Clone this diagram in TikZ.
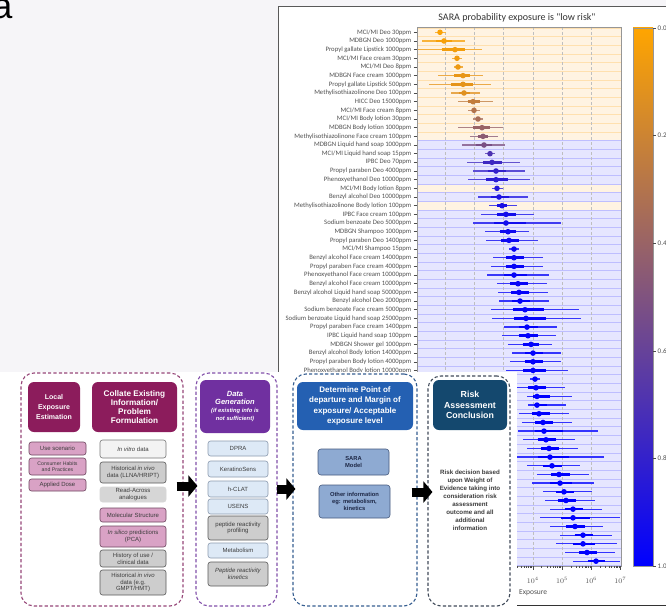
\documentclass[tikz,border=0pt]{standalone}
\usepackage{fontspec}
\setmainfont{Liberation Sans}
\newfontfamily\plotfont{Carlito}
\usetikzlibrary{arrows.meta,calc}

% page and plot colours
\definecolor{pagebg}{RGB}{246,245,248}
\definecolor{orng}{RGB}{255,165,0}
\definecolor{orbg}{RGB}{255,243,226}
\definecolor{orline}{RGB}{255,224,175}
\definecolor{blbg}{RGB}{230,230,255}
\definecolor{blline}{RGB}{190,190,255}
\definecolor{axgray}{RGB}{150,150,150}
\definecolor{lbltext}{RGB}{80,80,80}
% flowchart colours
\definecolor{hmag}{RGB}{140,28,92}
\definecolor{hpur}{RGB}{112,48,160}
\definecolor{hblu}{RGB}{36,96,178}
\definecolor{hdark}{RGB}{20,72,110}
\definecolor{fmag}{RGB}{150,70,120}
\definecolor{fpur}{RGB}{130,80,170}
\definecolor{fblu}{RGB}{55,95,145}
\definecolor{fdark}{RGB}{65,75,90}
\definecolor{pinkfill}{RGB}{217,162,197}
\definecolor{pinkdraw}{RGB}{110,70,95}
\definecolor{grayfill}{RGB}{205,205,205}
\definecolor{grayfilltwo}{RGB}{214,214,214}
\definecolor{graydraw}{RGB}{90,90,90}
\definecolor{lgrayfill}{RGB}{243,243,243}
\definecolor{lgraydraw}{RGB}{120,120,120}
\definecolor{bluefill}{RGB}{221,233,246}
\definecolor{bluedraw}{RGB}{140,155,175}
\definecolor{sarafill}{RGB}{142,170,210}
\definecolor{saradraw}{RGB}{70,90,125}
\definecolor{saratext}{RGB}{30,40,70}
\definecolor{itemtext}{RGB}{60,60,60}

\tikzset{
  frame/.style={draw=#1, dash pattern=on 3.2pt off 2.2pt, line width=1.1pt, rounded corners=13pt},
  hdr/.style={fill=#1, rounded corners=6pt, text=white, align=center, inner sep=0pt},
  item/.style 2 args={fill=#1, draw=#2, line width=0.6pt, rounded corners=2.5pt, align=center,
    inner sep=0pt, text=itemtext, font=\fontsize{6}{6.8}\selectfont},
  sara/.style={fill=sarafill, draw=saradraw, line width=0.6pt, rounded corners=3pt, align=center,
    inner sep=0pt, text=saratext, font=\bfseries\fontsize{5.8}{7.2}\selectfont},
  blk/.style={line width=9pt, black, -{Triangle[length=9pt,width=21pt]}},
  rowlbl/.style={anchor=east, inner sep=0pt, text=lbltext, font=\plotfont\fontsize{6.7}{7}\selectfont},
  ticklbl/.style={inner sep=0pt, text=lbltext, font=\plotfont\fontsize{7}{8}\selectfont},
}

% box placed by its corners: name, x1, y1, x2, y2, style, text
\newcommand\placebox[7]{%
  \node[#6, minimum width={(#4)-(#2)}, minimum height={(#5)-(#3)}] (#1)
    at ({((#2)+(#4))/2},{((#3)+(#5))/2}) {#7};}

\begin{document}
\begin{tikzpicture}[x=1pt,y=-1pt]
\useasboundingbox (0,0) rectangle (666,610);
\fill[pagebg] (0,0) rectangle (666,610);

% panel letter, cut by the page edge
\node[anchor=base east, inner sep=0pt, font=\fontsize{36}{36}\selectfont] (panela) at (12.5,19) {a};

% ---------------- forest plot ----------------
\fill[white] (278,7) rectangle (670,614);
\draw[black!65, line width=1pt] (278,400) -- (278,7) -- (670,7);
\draw[black!80, line width=1pt] (517,605) -- (670,605);

\node[font=\plotfont\fontsize{10}{12}\selectfont, text=black!80] (title) at (517,18) {SARA probability exposure is "low risk"};

% row bands
\foreach \n in {1,...,13,19,21}{
  \pgfmathsetmacro\ya{27.97+(\n-1)*8.67}
  \pgfmathsetmacro\yb{\ya+8.67}
  \fill[orbg] (417,\ya) rectangle (621,\yb);
  \draw[orline, line width=0.6pt] (417,\ya) -- (621,\ya) (417,\yb) -- (621,\yb);
}
\foreach \n in {14,...,18,20,22,23,...,62}{
  \pgfmathsetmacro\ya{27.97+(\n-1)*8.67}
  \pgfmathsetmacro\yb{\ya+8.67}
  \fill[blbg] (417,\ya) rectangle (621,\yb);
  \draw[blline, line width=0.6pt] (417,\ya) -- (621,\ya) (417,\yb) -- (621,\yb);
}

% decade grid lines
\foreach \k in {1,...,6}{
  \pgfmathsetmacro\xx{416+29.2*\k}
  \draw[black!25, line width=0.6pt, dash pattern=on 3pt off 2pt] (\xx,27) -- (\xx,566);
}

% exposure intervals: row / median / low / high / percent towards blue
\foreach \rr/\md/\lo/\hi/\pc in {
 1/440/435/446/2, 2/444/422/465/3, 3/455/418/482/5, 4/457/452/462/6, 5/458/454/463/7,
 6/463/438/483/9, 7/463/429/491/10, 8/464/451/480/12, 9/473/458/493/24, 10/474/468/480/30,
 11/478/473/483/34, 12/482/458/503/40, 13/483/470/498/45, 14/484/462/505/52, 15/490/485/495/70,
 16/492/467/520/76, 17/496/473/525/80, 18/496/468/530/83, 19/497/492/503/86, 20/499/478/528/88,
 21/502/489/517/90, 22/506/481/534/92, 23/506/473/561/93, 24/508/485/529/94, 25/509/486/538/95,
 26/514/509/519/96, 27/514/493/543/96, 28/514/491/543/97, 29/514/487/549/97, 30/518/497/547/97,
 31/519/498/548/98, 32/520/499/549/98, 33/525/491/579/98, 34/526/492/581/98, 35/527/504/557/99,
 36/528/502/556/99, 37/531/508/552/99, 38/533/512/561/99, 39/533/510/561/99, 40/533/506/568/99,
 41/535/530/540/100, 42/536/515/565/100, 43/537/527/572/100, 44/537/528/566/100, 45/539/519/569/100,
 46/543/522/572/100, 47/544/518/598/100, 48/546/523/575/100, 49/549/527/578/100, 50/550/517/604/100,
 51/552/527/580/100, 52/559/537/589/100, 53/560/532/594/100, 54/564/543/592/100, 55/566/545/595/100,
 56/573/550/602/100, 57/573/540/620/100, 58/575/550/603/100, 59/583/560/612/100, 60/583/556/617/100,
 61/587/565/615/100, 62/596/573/620/100}{
  \pgfmathsetmacro\yy{32.3+(\rr-1)*8.67}
  \pgfmathsetmacro\ta{\md-0.36*(\md-\lo)}
  \pgfmathsetmacro\tb{\md+0.36*(\hi-\md)}
  \colorlet{rowcol}{blue!\pc!orng}
  \draw[draw=rowcol!80!white, line width=1.3pt] (\lo,\yy) -- (\hi,\yy);
  \draw[draw=rowcol, line width=2.6pt] (\ta,\yy) -- (\tb,\yy);
  \fill[fill=rowcol] (\md,\yy) circle (2.8pt);
}

% axes frame
\draw[axgray, line width=0.7pt] (417,27) rectangle (621,566);

% row labels and ticks
\foreach \n/\t in {
 1/{MCI/MI Deo 30ppm}, 2/{MDBGN Deo 1000ppm}, 3/{Propyl gallate Lipstick 1000ppm},
 4/{MCI/MI Face cream 30ppm}, 5/{MCI/MI Deo 8ppm}, 6/{MDBGN Face cream 1000ppm},
 7/{Propyl gallate Lipstick 500ppm}, 8/{Methylisothiazolinone Deo 100ppm}, 9/{HICC Deo 15000ppm},
 10/{MCI/MI Face cream 8ppm}, 11/{MCI/MI Body lotion 30ppm}, 12/{MDBGN Body lotion 1000ppm},
 13/{Methylisothiazolinone Face cream 100ppm}, 14/{MDBGN Liquid hand soap 1000ppm},
 15/{MCI/MI Liquid hand soap 15ppm}, 16/{IPBC Deo 70ppm}, 17/{Propyl paraben Deo 4000ppm},
 18/{Phenoxyethanol Deo 10000ppm}, 19/{MCI/MI Body lotion 8ppm}, 20/{Benzyl alcohol Deo 10000ppm},
 21/{Methylisothiazolinone Body lotion 100ppm}, 22/{IPBC Face cream 100ppm},
 23/{Sodium benzoate Deo 5000ppm}, 24/{MDBGN Shampoo 1000ppm}, 25/{Propyl paraben Deo 1400ppm},
 26/{MCI/MI Shampoo 15ppm}, 27/{Benzyl alcohol Face cream 14000ppm},
 28/{Propyl paraben Face cream 4000ppm}, 29/{Phenoxyethanol Face cream 10000ppm},
 30/{Benzyl alcohol Face cream 10000ppm}, 31/{Benzyl alcohol Liquid hand soap 50000ppm},
 32/{Benzyl alcohol Deo 2000ppm}, 33/{Sodium benzoate Face cream 5000ppm},
 34/{Sodium benzoate Liquid hand soap 25000ppm}, 35/{Propyl paraben Face cream 1400ppm},
 36/{IPBC Liquid hand soap 100ppm}, 37/{MDBGN Shower gel 1000ppm},
 38/{Benzyl alcohol Body lotion 14000ppm}, 39/{Propyl paraben Body lotion 4000ppm},
 40/{Phenoxyethanol Body lotion 10000ppm}}{
  \pgfmathsetmacro\yy{32.3+(\n-1)*8.67}
  \draw[black!70, line width=0.5pt] (413.5,\yy) -- (417,\yy);
  \node[rowlbl] at (411.5,\yy) {\t};
}

% logarithmic exposure axis
\foreach \k in {3,...,6}{
  \foreach \m in {2,...,9}{
    \pgfmathsetmacro\xx{416+29.2*(\k+log10(\m))}
    \draw[black!70, line width=0.4pt] (\xx,566) -- (\xx,568.2);
  }
}
\foreach \k in {4,...,7}{
  \pgfmathsetmacro\xx{416+29.2*\k}
  \draw[black!70, line width=0.5pt] (\xx,566) -- (\xx,569.5);
  \node[ticklbl] at (\xx,580) {$10^{\k}$};
}
\node[ticklbl, anchor=west, font=\plotfont\fontsize{7.5}{9}\selectfont] (xlab) at (519,593) {Exposure};

% colour bar
\shade[top color=orng, bottom color=blue] (633,28) rectangle (653,566);
\draw[axgray, line width=0.6pt] (633,28) rectangle (653,566);
\foreach \v/\lab in {0/0.0,1/0.2,2/0.4,3/0.6,4/0.8,5/1.0}{
  \pgfmathsetmacro\yy{28+107.6*\v}
  \draw[black!70, line width=0.5pt] (653,\yy) -- (656,\yy);
  \node[ticklbl, anchor=west] at (657.5,\yy) {\lab};
}

% ---------------- workflow panel ----------------
\fill[white] (-2,372) rectangle (517,614);

% stage frames
\placebox{f1}{21}{373}{183}{606}{frame=fmag}{}
\placebox{f2}{196}{373}{277}{606}{frame=fpur}{}
\placebox{f3}{293}{374}{417}{606}{frame=fblu}{}
\placebox{f4}{428}{376}{510}{606}{frame=fdark}{}

% stage 1: exposure and existing information
\placebox{h1}{28}{382}{80}{432}{hdr=hmag, font=\bfseries\fontsize{7}{9.8}\selectfont}{Local\\Exposure\\Estimation}
\placebox{h2}{92}{382}{177}{432}{hdr=hmag, font=\bfseries\fontsize{8.2}{9}\selectfont}{Collate Existing\\Information/\\Problem\\Formulation}

\placebox{u1}{29}{442}{86}{455}{item={pinkfill}{pinkdraw}}{Use scenario}
\placebox{u2}{29}{458}{86}{475}{item={pinkfill}{pinkdraw}, font=\fontsize{5.2}{6}\selectfont}{Consumer Habits\\and Practices}
\placebox{u3}{29}{479}{86}{491}{item={pinkfill}{pinkdraw}}{Applied Dose}

\placebox{c1}{100}{440}{166}{458}{item={lgrayfill}{lgraydraw}}{\textit{In vitro} data}
\placebox{c2}{100}{462}{166}{483}{item={grayfill}{graydraw}}{Historical \textit{in vivo}\\data (LLNA/HRIPT)}
\placebox{c3}{100}{487}{166}{502}{item={grayfilltwo}{grayfilltwo}}{Read-Across\\analogues}
\placebox{c4}{100}{508}{166}{522}{item={pinkfill}{pinkdraw}}{Molecular Structure}
\placebox{c5}{100}{526}{166}{547}{item={pinkfill}{pinkdraw}}{\textit{In silico} predictions\\(PCA)}
\placebox{c6}{100}{550}{166}{567}{item={grayfill}{graydraw}}{History of use /\\clinical data}
\placebox{c7}{100}{570}{166}{595}{item={grayfill}{graydraw}}{Historical \textit{in vivo}\\data (e.g.\\GMPT/HMT)}

% stage 2: data generation
\placebox{h3}{200}{380}{270}{433}{hdr=hpur, font=\bfseries\itshape\fontsize{7.5}{8.3}\selectfont}{Data\\Generation\\{\fontsize{5.8}{6.8}\selectfont (if existing info is}\\{\fontsize{5.8}{6.8}\selectfont not sufficient)}}

\placebox{d1}{208}{441}{268}{456}{item={bluefill}{bluedraw}}{DPRA}
\placebox{d2}{208}{461}{268}{477}{item={bluefill}{bluedraw}}{KeratinoSens}
\placebox{d3}{208}{481}{268}{497}{item={bluefill}{bluedraw}}{h-CLAT}
\placebox{d4}{208}{499}{268}{514}{item={bluefill}{bluedraw}}{USENS}
\placebox{d5}{208}{516}{268}{540}{item={grayfill}{graydraw}}{peptide reactivity\\profiling}
\placebox{d6}{208}{543}{268}{558}{item={bluefill}{bluedraw}}{Metabolism}
\placebox{d7}{208}{562}{268}{586}{item={grayfill}{graydraw}}{\textit{Peptide reactivity}\\\textit{kinetics}}

% stage 3: point of departure
\placebox{h4}{297}{382}{413}{430}{hdr=hblu, font=\bfseries\fontsize{8}{10.3}\selectfont}{Determine Point of\\departure and Margin of\\exposure/ Acceptable\\exposure level}
\placebox{s1}{318}{449}{389}{475}{sara}{SARA\\Model}
\placebox{s2}{319}{485}{390}{518}{sara}{Other information\\eg: metabolism,\\kinetics}

% stage 4: conclusion
\placebox{h5}{433}{380}{507}{430}{hdr=hdark, font=\bfseries\fontsize{8.8}{10.2}\selectfont}{Risk\\Assessment\\Conclusion}
\node[align=center, inner sep=0pt, text=itemtext, font=\bfseries\fontsize{6.2}{8}\selectfont] (t1) at (470,500)
  {Risk decision based\\upon Weight of\\Evidence taking into\\consideration risk\\assessment\\outcome and all\\additional\\information};

% block arrows between stages
\coordinate (ay1) at (0,486);
\coordinate (ay2) at (0,489);
\coordinate (ay3) at (0,492);
\draw[blk] ($(f1.east |- ay1)+(-7,0)$) -- ($(f2.west |- ay1)+(2,0)$);
\draw[blk] ($(f2.east |- ay2)+(-1,0)$) -- ($(f3.west |- ay2)+(3,0)$);
\draw[blk] ($(f3.east |- ay3)+(-6,0)$) -- ($(f4.west |- ay3)+(5,0)$);

\end{tikzpicture}
\end{document}
